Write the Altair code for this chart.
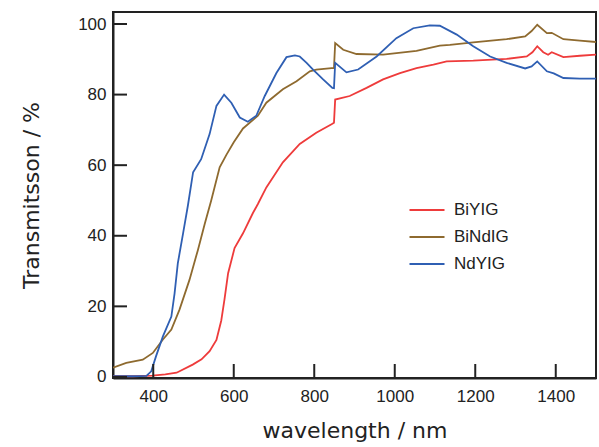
import altair as alt
import pandas as pd

# ---- data ----
bi_wl = [300, 350, 398, 430, 458, 498, 520, 540, 557, 569, 577, 586, 602, 623, 647, 660, 681, 722, 764, 805,
         843, 849, 852, 888, 930, 971, 1013, 1054, 1096, 1129, 1195, 1278, 1328, 1342, 1354, 1369, 1381, 1390,
         1419, 1460, 1500]
bi_t = [0.2, 0.2, 0.4, 0.7, 1.2, 3.5, 5.0, 7.3, 10.5, 16, 22, 29.4, 36.5, 40.7, 46.3, 49, 53.7, 60.8, 66, 69.2,
        71.6, 72, 78.6, 79.6, 81.9, 84.3, 86.1, 87.5, 88.5, 89.4, 89.6, 90.1, 90.8, 92, 93.7, 92, 91.3, 92,
        90.6, 91, 91.3]

bind_wl = [300, 333, 374, 399, 424, 445, 465, 490, 511, 528, 544, 565, 582, 600, 623, 660, 681, 722, 756, 789,
           805, 843, 849, 852, 872, 905, 971, 1054, 1112, 1137, 1195, 1278, 1324, 1340, 1354, 1378, 1390, 1419,
           1460, 1500]
bind_t = [2.6, 4, 4.9, 6.8, 10.6, 13.4, 19, 27.5, 36, 43.4, 50, 59.4, 63, 66.5, 70.4, 74, 77.7, 81.5, 83.8, 86.6,
          87.1, 87.5, 87.5, 94.6, 92.7, 91.5, 91.3, 92.4, 93.9, 94.1, 94.8, 95.7, 96.5, 98, 99.8, 97.4, 97.5, 95.7,
          95.3, 94.9]

nd_wl = [300, 350, 383, 395, 407, 424, 445, 453, 461, 474, 486, 499, 519, 540, 557, 576, 594, 615, 635, 656,
         677, 706, 731, 752, 764, 781, 797, 822, 845, 849, 852, 880, 909, 955, 1004, 1046, 1087, 1112, 1154, 1195,
         1237, 1278, 1324, 1340, 1354, 1378, 1395, 1419, 1460, 1500]
nd_t = [0.2, 0.2, 0.3, 1.6, 5.9, 11.5, 17.1, 23.7, 32.2, 40.6, 48.5, 58, 61.7, 68.8, 76.8, 80, 77.7, 73.5, 72.3, 74,
        79.6, 86.1, 90.6, 91.1, 90.8, 89, 87.1, 84.3, 81.9, 81.8, 89, 86.3, 87.1, 90.8, 96, 98.8, 99.6, 99.5, 97,
        93.7, 90.8, 89, 87.4, 88, 89.4, 86.6, 86, 84.7, 84.5, 84.5]

series_names = ["BiYIG", "BiNdIG", "NdYIG"]
series_colors = ["#EE3B3B", "#8E6A2F", "#2F5FB3"]
x_ticks = [400, 600, 800, 1000, 1200, 1400]
y_ticks = [0, 20, 40, 60, 80, 100]

rows = []
for name, wl, t in [("BiYIG", bi_wl, bi_t), ("BiNdIG", bind_wl, bind_t), ("NdYIG", nd_wl, nd_t)]:
    for i, (a, b) in enumerate(zip(wl, t)):
        rows.append({"series": name, "wl": a, "T": b, "order": i})
df = pd.DataFrame(rows)
xt = pd.DataFrame({"wl": x_ticks})
yt = pd.DataFrame({"T": y_ticks})

W, H = 483, 366
TICK = 14

xscale = alt.Scale(domain=[300, 1500], nice=False, zero=False)
yscale = alt.Scale(domain=[-0.3, 103.4], nice=False, zero=False)

xaxis = alt.Axis(values=x_ticks, format="d", labelPadding=5, titlePadding=16)
yaxis = alt.Axis(values=y_ticks, format="d", labelPadding=2, titlePadding=34)

lines = alt.Chart(df).mark_line(strokeWidth=1.8, clip=True).encode(
    x=alt.X("wl:Q", scale=xscale, title="wavelength / nm", axis=xaxis),
    y=alt.Y("T:Q", scale=yscale, title="Transmitsson / %", axis=yaxis),
    color=alt.Color("series:N", scale=alt.Scale(domain=series_names, range=series_colors),
                    sort=series_names,
                    legend=alt.Legend(title=None, orient="none", legendX=295, legendY=179,
                                      symbolType="stroke", symbolSize=1225, symbolStrokeWidth=2.2,
                                      labelFontSize=17, labelFont="Liberation Sans",
                                      labelColor="#222222", labelOffset=8, rowPadding=-15,
                                      padding=0)),
    order="order:Q",
)

xt_marks = alt.Chart(xt).mark_tick(color="#222222", opacity=1, thickness=2, size=TICK,
                                   orient="vertical").encode(
    x=alt.X("wl:Q", scale=xscale, title="wavelength / nm", axis=xaxis),
    y=alt.value(H - TICK / 2),
)
yt_marks = alt.Chart(yt).mark_tick(color="#222222", opacity=1, thickness=2, size=TICK,
                                   orient="horizontal").encode(
    y=alt.Y("T:Q", scale=yscale, title="Transmitsson / %", axis=yaxis),
    x=alt.value(TICK / 2),
)

chart = alt.layer(lines, xt_marks, yt_marks).properties(
    width=W, height=H,
    autosize=alt.AutoSizeParams(type="none"),
    padding={"left": 113, "top": 12, "right": 3, "bottom": 69},
).configure_axis(
    tickOpacity=0, gridOpacity=0,
    labelFontSize=17, labelFont="Liberation Sans", labelColor="#222222",
    titleFont="DejaVu Sans", titleFontSize=22, titleFontWeight="normal", titleColor="#222222",
    domainColor="#222222", domainWidth=2,
).configure_view(stroke="#222222", strokeWidth=2)

chart.save("out.html", embed_options={"renderer": "svg", "actions": False})
